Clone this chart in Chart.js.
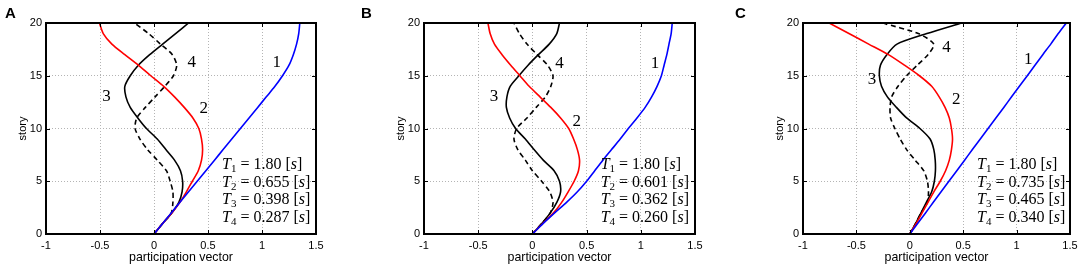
<!DOCTYPE html>
<html>
<head>
<meta charset="utf-8">
<script src="https://cdn.jsdelivr.net/npm/chart.js@4.4.1/dist/chart.umd.min.js"></script>
<style>
  html, body { margin: 0; padding: 0; background: #fff; }
  #wrap { position: relative; width: 1084px; height: 268px; overflow: hidden; }
  #wrap canvas { position: absolute; top: 0; }
</style>
</head>
<body>
<div id="wrap">
  <canvas id="chart-a" width="360" height="268" style="left:0"></canvas>
  <canvas id="chart-b" width="362" height="268" style="left:360px"></canvas>
  <canvas id="chart-c" width="362" height="268" style="left:722px"></canvas>
</div>
<script>
// stories 0..20, participation vector
const stories = [0, 1, 2, 3, 4, 5, 6, 7, 8, 9, 10, 11, 12, 13, 14, 15, 16, 17, 18, 19, 20];
const xTicks = [-1, -0.5, 0, 0.5, 1, 1.5];
const yTicks = [0, 5, 10, 15, 20];

// panel A
const modeA1 = [0, 0.08, 0.16, 0.24, 0.32, 0.40, 0.48, 0.56, 0.64, 0.72, 0.80, 0.88, 0.96, 1.04, 1.12, 1.19, 1.25, 1.29, 1.32, 1.34, 1.35];
const modeA2 = [0, 0.08, 0.165, 0.24, 0.30, 0.355, 0.41, 0.44, 0.45, 0.44, 0.415, 0.36, 0.28, 0.19, 0.09, -0.03, -0.145, -0.27, -0.39, -0.47, -0.505];
const modeA3 = [0, 0.08, 0.165, 0.23, 0.26, 0.265, 0.245, 0.19, 0.11, 0.03, -0.07, -0.15, -0.22, -0.26, -0.27, -0.22, -0.145, -0.04, 0.08, 0.20, 0.32];
const modeA4 = [0, 0.08, 0.16, 0.175, 0.175, 0.15, 0.115, 0.03, -0.06, -0.13, -0.175, -0.16, -0.08, 0.01, 0.10, 0.18, 0.21, 0.17, 0.06, -0.05, -0.18];
const periodsA = ['1.80', '0.655', '0.398', '0.287'];

// panel B
const modeB1 = [0, 0.10, 0.205, 0.315, 0.415, 0.50, 0.575, 0.65, 0.73, 0.81, 0.885, 0.965, 1.04, 1.10, 1.15, 1.19, 1.215, 1.24, 1.26, 1.28, 1.29];
const modeB2 = [0, 0.095, 0.195, 0.27, 0.33, 0.385, 0.425, 0.435, 0.415, 0.38, 0.335, 0.26, 0.17, 0.07, -0.03, -0.115, -0.20, -0.28, -0.35, -0.39, -0.41];
const modeB3 = [0, 0.087, 0.165, 0.225, 0.26, 0.25, 0.20, 0.10, 0.015, -0.065, -0.155, -0.21, -0.24, -0.235, -0.205, -0.125, -0.04, 0.055, 0.155, 0.225, 0.25];
const modeB4 = [0, 0.087, 0.165, 0.19, 0.16, 0.085, 0.0, -0.065, -0.135, -0.17, -0.145, -0.05, 0.035, 0.12, 0.17, 0.19, 0.14, 0.045, -0.05, -0.12, -0.17];
const periodsB = ['1.80', '0.601', '0.362', '0.260'];

// panel C
const modeC1 = [0, 0.073, 0.147, 0.22, 0.293, 0.366, 0.44, 0.513, 0.586, 0.66, 0.733, 0.806, 0.88, 0.953, 1.026, 1.10, 1.172, 1.245, 1.32, 1.39, 1.465];
const modeC2 = [0, 0.06, 0.115, 0.17, 0.225, 0.285, 0.335, 0.37, 0.39, 0.40, 0.39, 0.37, 0.33, 0.275, 0.205, 0.09, -0.05, -0.20, -0.385, -0.57, -0.755];
const modeC3 = [0, 0.055, 0.105, 0.155, 0.205, 0.23, 0.24, 0.238, 0.225, 0.19, 0.095, -0.03, -0.125, -0.21, -0.265, -0.285, -0.275, -0.215, -0.12, 0.16, 0.484];
const modeC4 = [0, 0.055, 0.105, 0.165, 0.175, 0.165, 0.13, 0.05, -0.03, -0.09, -0.14, -0.18, -0.185, -0.17, -0.11, -0.03, 0.07, 0.17, 0.225, 0.08, -0.256];
const periodsC = ['1.80', '0.735', '0.465', '0.340'];

const lineStyles = [
  { color: '#0000ff', dash: [] },
  { color: '#ff0000', dash: [] },
  { color: '#000000', dash: [] },
  { color: '#000000', dash: [5, 3.5] }
];

const panels = [
  { id: 'chart-a', letter: 'A', letterX: 5, padLeft: 0, padRight: 44,
    modes: [modeA1, modeA2, modeA3, modeA4], periods: periodsA,
    numberAt: [[1.136, 16.3], [0.46, 11.9], [-0.44, 13.0], [0.35, 16.25]] },
  { id: 'chart-b', letter: 'B', letterX: 1, padLeft: 18, padRight: 27,
    modes: [modeB1, modeB2, modeB3, modeB4], periods: periodsB,
    numberAt: [[1.13, 16.15], [0.41, 10.65], [-0.354, 13.0], [0.25, 16.2]] },
  { id: 'chart-c', letter: 'C', letterX: 13, padLeft: 35, padRight: 14,
    modes: [modeC1, modeC2, modeC3, modeC4], periods: periodsC,
    numberAt: [[1.11, 16.5], [0.436, 12.7], [-0.355, 14.6], [0.343, 17.7]] }
];

const periodRows = [6.6, 4.95, 3.3, 1.65];   // story level of each T line
const sansFont = '"Liberation Sans", Arial, sans-serif';
const serifFont = '"Liberation Serif", "DejaVu Serif", serif';

// box round the plot with inward ticks on all four sides
const framePlugin = {
  id: 'frame',
  afterDatasetsDraw(chart) {
    const { ctx, chartArea: a, scales: { x, y } } = chart;
    ctx.save();
    ctx.strokeStyle = '#000';
    ctx.lineWidth = 1;
    ctx.beginPath();
    xTicks.forEach(v => {
      const px = Math.round(x.getPixelForValue(v)) + 0.5;
      ctx.moveTo(px, a.bottom); ctx.lineTo(px, a.bottom - 4);
      ctx.moveTo(px, a.top); ctx.lineTo(px, a.top + 4);
    });
    yTicks.forEach(v => {
      const py = Math.round(y.getPixelForValue(v)) + 0.5;
      ctx.moveTo(a.left, py); ctx.lineTo(a.left + 4, py);
      ctx.moveTo(a.right, py); ctx.lineTo(a.right - 4, py);
    });
    ctx.stroke();
    ctx.lineWidth = 2;
    ctx.strokeRect(a.left, a.top, a.right - a.left, a.bottom - a.top);
    ctx.restore();
  }
};

// curve numbers, periods and panel letter
const notesPlugin = {
  id: 'notes',
  afterDraw(chart, args, opts) {
    const { ctx, scales: { x, y } } = chart;
    const p = opts.panel;
    ctx.save();
    ctx.fillStyle = '#000';

    ctx.font = 'bold 15px ' + sansFont;
    ctx.textAlign = 'left';
    ctx.textBaseline = 'alphabetic';
    ctx.fillText(p.letter, p.letterX, 18);

    ctx.font = '17px ' + serifFont;
    ctx.textAlign = 'center';
    ctx.textBaseline = 'middle';
    p.numberAt.forEach((pos, i) => {
      ctx.fillText(String(i + 1), x.getPixelForValue(pos[0]), y.getPixelForValue(pos[1]));
    });

    ctx.textAlign = 'left';
    ctx.textBaseline = 'alphabetic';
    const left = x.getPixelForValue(0.63);
    p.periods.forEach((val, i) => {
      const base = y.getPixelForValue(periodRows[i]) + 5;
      let cx = left;
      const put = (txt, font, dy) => {
        ctx.font = font;
        ctx.fillText(txt, cx, base + dy);
        cx += ctx.measureText(txt).width;
      };
      put('T', 'italic 16px ' + serifFont, 0);
      put(String(i + 1), '11px ' + serifFont, 3);
      put(' = ' + val + ' [', '16px ' + serifFont, 0);
      put('s', 'italic 16px ' + serifFont, 0);
      put(']', '16px ' + serifFont, 0);
    });
    ctx.restore();
  }
};

const buildConfig = (p) => ({
  type: 'scatter',
  data: {
    datasets: p.modes.map((mode, i) => ({
      label: 'mode ' + (i + 1),
      data: stories.map((s, k) => ({ x: mode[k], y: s })),
      showLine: true,
      borderColor: lineStyles[i].color,
      borderDash: lineStyles[i].dash,
      borderWidth: 1.6,
      pointRadius: 0,
      tension: 0.25,
      fill: false
    }))
  },
  options: {
    responsive: false,
    animation: false,
    events: [],
    layout: { padding: { left: p.padLeft, right: p.padRight, top: 23, bottom: 0 } },
    plugins: {
      legend: { display: false },
      tooltip: { enabled: false },
      notes: { panel: p }
    },
    scales: {
      x: {
        type: 'linear',
        min: -1,
        max: 1.5,
        afterBuildTicks: axis => { axis.ticks = xTicks.map(v => ({ value: v })); },
        afterFit: axis => { axis.height = 34; },
        grid: { color: '#b4b4b4', lineWidth: 1, drawTicks: false },
        border: { display: false, dash: [1, 2] },
        ticks: { color: '#000', padding: 5, maxRotation: 0, callback: v => String(v),
                 font: { family: sansFont, size: 11 } },
        title: { display: true, text: 'participation vector', color: '#000',
                 font: { family: sansFont, size: 12.4 }, padding: { top: 0, bottom: 2.6 } }
      },
      y: {
        type: 'linear',
        min: 0,
        max: 20,
        afterBuildTicks: axis => { axis.ticks = yTicks.map(v => ({ value: v })); },
        afterFit: axis => { axis.width = 46; },
        grid: { color: '#b4b4b4', lineWidth: 1, drawTicks: false },
        border: { display: false, dash: [1, 2] },
        ticks: { color: '#000', padding: 4, callback: v => String(v),
                 font: { family: sansFont, size: 11 } },
        title: { display: true, text: 'story', color: '#000',
                 font: { family: sansFont, size: 11 }, padding: { top: 16.4, bottom: 0 } }
      }
    }
  },
  plugins: [framePlugin, notesPlugin]
});

panels.forEach(p => {
  const ctx = document.getElementById(p.id).getContext('2d');
  new Chart(ctx, buildConfig(p));
});
</script>
</body>
</html>
